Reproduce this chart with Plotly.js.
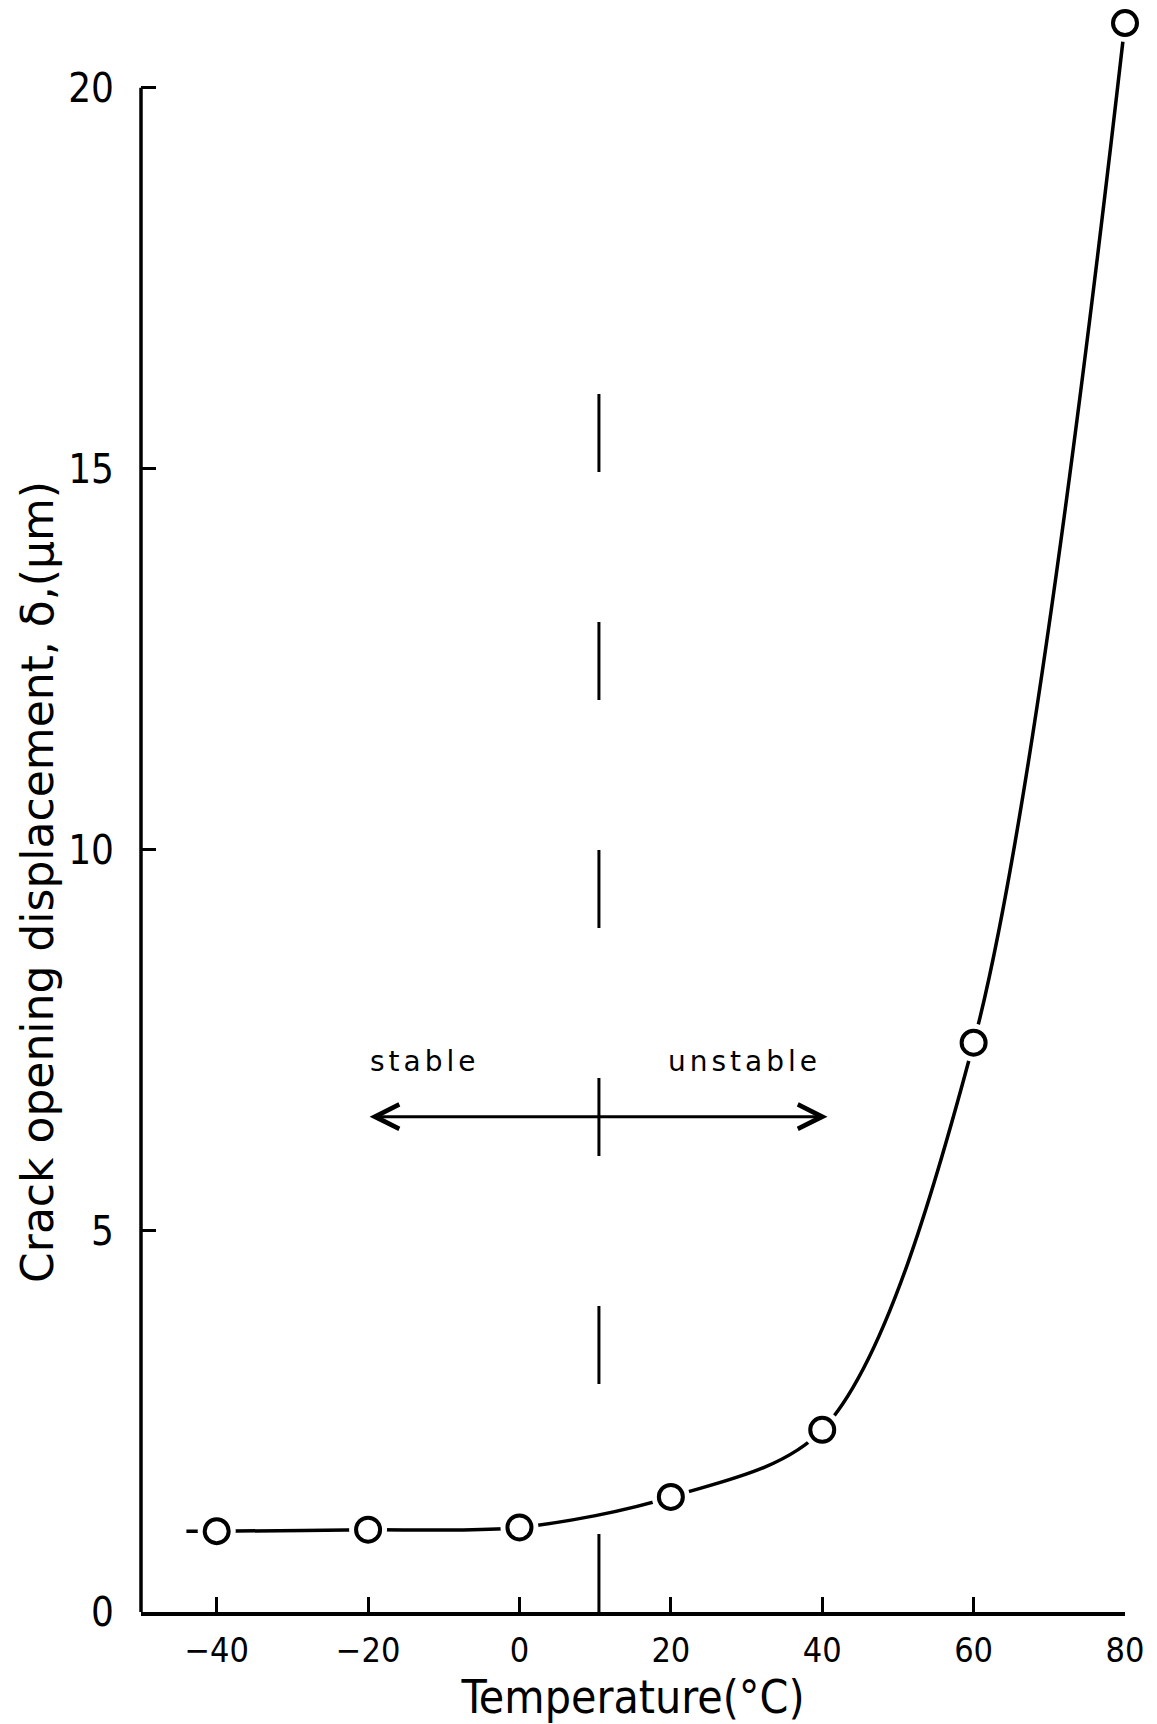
<!DOCTYPE html>
<html>
<head>
<meta charset="utf-8">
<script src="https://cdn.plot.ly/plotly-3.0.1.min.js"></script>
<style>
  html, body { margin: 0; padding: 0; background: #ffffff; }
  #chart { width: 1157px; height: 1724px; }
  g.annotation[data-index="1"] text, g.annotation[data-index="2"] text { letter-spacing: 4px; }
</style>
</head>
<body>
<div id="chart"></div>
<script>
// Measured points: temperature (°C) vs crack opening displacement (µm)
const temperature = [-40, -20, 0, 20, 40, 60, 80];
const cod = [1.06, 1.08, 1.11, 1.51, 2.39, 7.47, 20.85];

// Fitted curve as drawn (starts slightly left of the first point)
const curveTemp = [-44, -40, -20, 0, 20, 40, 60, 80];
const curveCod = [1.06, 1.06, 1.08, 1.11, 1.51, 2.39, 7.47, 20.85];

// Axis ticks
const xTicks = [-40, -20, 0, 20, 40, 60, 80];
const yTicks = [0, 5, 10, 15, 20];

// Stable / unstable boundary temperature and region labels
const boundaryTemp = 10.5;
const boundaryTop = 16;
const regionLabels = ['stable', 'unstable'];

const curveTrace = {
  x: curveTemp, y: curveCod,
  type: 'scatter', mode: 'lines',
  line: { shape: 'spline', smoothing: 0.9, color: '#000000', width: 3.5 },
  hoverinfo: 'skip'
};

const gapTrace = {
  x: temperature, y: cod,
  type: 'scatter', mode: 'markers',
  marker: { symbol: 'circle', size: 38, color: '#ffffff', line: { width: 0 } },
  cliponaxis: false, hoverinfo: 'skip'
};

const pointTrace = {
  x: temperature, y: cod,
  type: 'scatter', mode: 'markers',
  marker: { symbol: 'circle', size: 24, color: '#ffffff', line: { color: '#000000', width: 4 } },
  cliponaxis: false
};

const tickFontX = { family: 'DejaVu Sans Condensed, DejaVu Sans, sans-serif', size: 34, color: '#000000' };
const tickFontY = { family: 'DejaVu Sans Condensed, DejaVu Sans, sans-serif', size: 40, color: '#000000' };

const layout = {
  width: 1157, height: 1724,
  margin: { l: 141, r: 32, t: 4, b: 112 },
  paper_bgcolor: '#ffffff', plot_bgcolor: '#ffffff',
  showlegend: false,
  font: { family: 'DejaVu Sans, sans-serif', color: '#000000' },
  xaxis: {
    range: [-50, 80],
    tickvals: xTicks,
    ticks: 'inside', ticklen: 15, tickwidth: 3, tickcolor: '#000000',
    showline: true, linewidth: 3.5, linecolor: '#000000',
    showgrid: false, zeroline: false,
    tickfont: tickFontX,
    ticklabelstandoff: 6,
    title: { text: 'Temperature(°C)', font: { family: 'DejaVu Sans Condensed, DejaVu Sans, sans-serif', size: 46, color: '#000000' }, standoff: 10 }
  },
  yaxis: {
    range: [0, 21.1],
    tickvals: yTicks,
    ticks: 'inside', ticklen: 15, tickwidth: 3, tickcolor: '#000000',
    showline: false,
    showgrid: false, zeroline: false,
    tickfont: tickFontY,
    ticklabelstandoff: 26
  },
  shapes: [
    { type: 'line', xref: 'paper', x0: 0, x1: 0, yref: 'y', y0: 0, y1: 20,
      line: { color: '#000000', width: 3.5 } },
    { type: 'line', xref: 'x', x0: boundaryTemp, x1: boundaryTemp, yref: 'y', y0: 0, y1: boundaryTop,
      line: { color: '#000000', width: 3, dash: '78px,150px' } }
  ],
  annotations: [
    { xref: 'x', yref: 'y', x: 40.7, y: 6.5, axref: 'x', ayref: 'y', ax: -20, ay: 6.5,
      text: '', showarrow: true, arrowside: 'end+start',
      arrowhead: 5, startarrowhead: 5, arrowsize: 1.6, startarrowsize: 1.6,
      arrowwidth: 3, arrowcolor: '#000000' },
    { xref: 'x', yref: 'y', x: -12.5, y: 7.22, text: regionLabels[0], showarrow: false,
      font: { family: 'DejaVu Sans, sans-serif', size: 28, color: '#000000' } },
    { xref: 'x', yref: 'y', x: 29.75, y: 7.22, text: regionLabels[1], showarrow: false,
      font: { family: 'DejaVu Sans, sans-serif', size: 28, color: '#000000' } },
    { xref: 'paper', yref: 'y', x: (38 - 141) / 984, y: 9.58, xanchor: 'center', yanchor: 'middle',
      textangle: -90, text: 'Crack opening displacement, δ,(μm)', showarrow: false,
      font: { family: 'DejaVu Sans, sans-serif', size: 44, color: '#000000' } }
  ]
};

Plotly.newPlot('chart', [curveTrace, gapTrace, pointTrace], layout, { displayModeBar: false, staticPlot: true });
</script>
</body>
</html>
